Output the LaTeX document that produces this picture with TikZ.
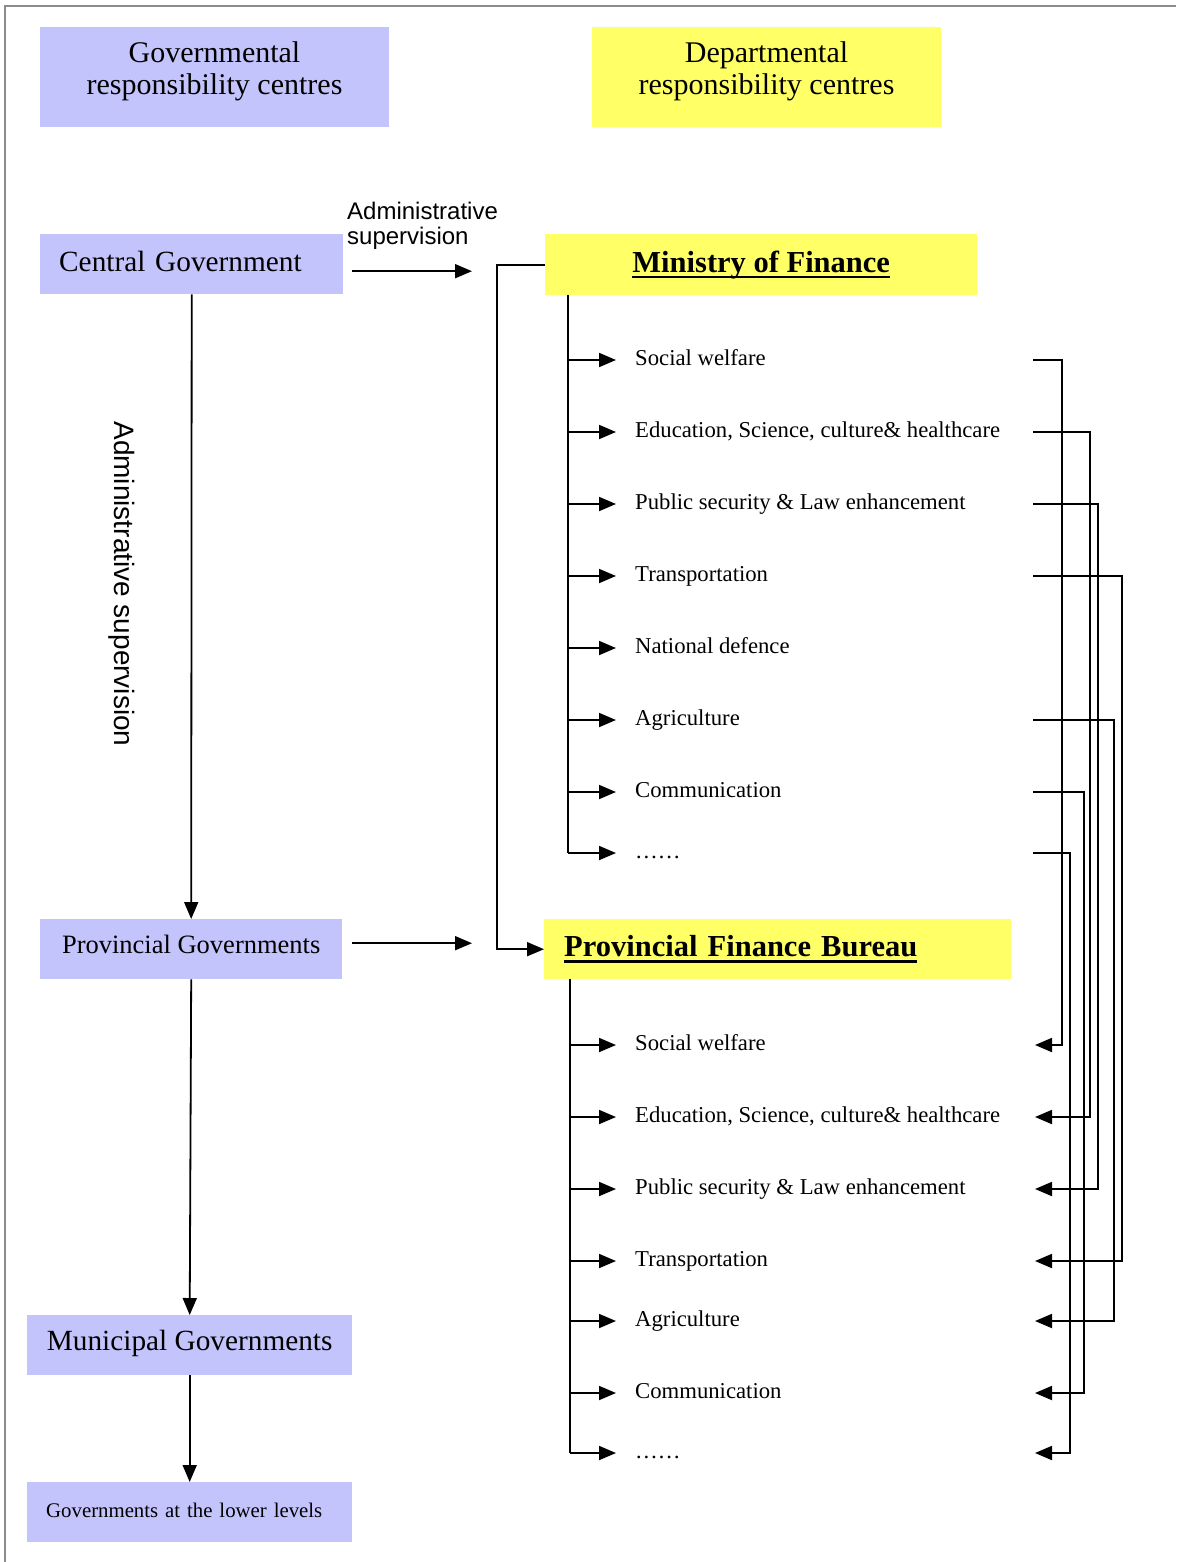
\documentclass[tikz,border=0pt]{standalone}
\usepackage{fontspec}
\setmainfont{Liberation Serif}
\newfontfamily\arialfont{Liberation Sans}
\usetikzlibrary{arrows.meta}
\definecolor{govblue}{RGB}{196,196,252}
\definecolor{depyellow}{RGB}{255,255,102}
\definecolor{framegray}{RGB}{140,140,140}
\newcommand\ulbold[1]{\setbox0=\hbox{#1}\rlap{\rule[-5.8pt]{\wd0}{2.3pt}}\box0}
\tikzset{
 govbox/.style={fill=govblue, draw=none, inner sep=0, anchor=north west},
 depbox/.style={fill=depyellow, draw=none, inner sep=0, anchor=north west},
 hdr/.style={align=center, inner sep=0, font=\fontsize{30}{32}\selectfont},
 conn/.style={line width=1.8pt, -{Triangle[length=17pt,width=14pt]}},
 busline/.style={line width=2.8pt},
 item/.style={anchor=west, inner sep=0, font=\fontsize{22.7}{26}\selectfont, text height=15pt, text depth=4pt},
}
\begin{document}
\begin{tikzpicture}[x=1pt,y=-1pt]
\useasboundingbox (0,0) rectangle (1176,1562);
\draw[framegray, line width=1.5pt] (5,1562) -- (5,6) -- (1176,6);

% headers
\node[govbox, minimum width=349, minimum height=100] (gh) at (40,27) {};
\node[hdr] (ght) at (214.5,71) {Governmental\\responsibility centres};
\node[depbox, minimum width=349, minimum height=100] (dh) at (592,27) {};
\node[hdr] (dht) at (766.5,71) {Departmental\\responsibility centres};

% main boxes
\node[govbox, minimum height=60, text width=265, inner xsep=19, align=left, text height=20pt, text depth=5.6pt, font=\fontsize{29.3}{32}\selectfont] (cg) at (40,234) {Central Government};
\node[depbox, minimum width=432, minimum height=61, font=\bfseries\fontsize{30.5}{32}\selectfont] (mof) at (545,234) {\ulbold{Ministry of Finance}};
\node[govbox, minimum width=302, minimum height=60, text height=18pt, text depth=8.5pt, font=\fontsize{26.5}{28}\selectfont] (pg) at (40,919) {Provincial Governments};
\node[depbox, minimum height=60, text width=427, inner xsep=20, align=left, font=\bfseries\fontsize{30.5}{32}\selectfont] (pfb) at (544,919) {\ulbold{Provincial Finance Bureau}};
\node[govbox, minimum width=325, minimum height=60, text height=20pt, text depth=8.6pt, font=\fontsize{29.3}{32}\selectfont] (mg) at (27,1315) {Municipal Governments};
\node[govbox, minimum height=60, text width=287, inner xsep=19, align=left, text height=15pt, text depth=5.3pt, font=\fontsize{20.8}{24}\selectfont] (lg) at (27,1482) {Governments at the lower levels};

% labels
\node[font=\arialfont\fontsize{24}{25}\selectfont, align=left, anchor=west, inner sep=0] (ash) at (347,225.5) {Administrative\\supervision};
\node[font=\arialfont\fontsize{28}{30}\selectfont, rotate=-90, inner sep=0] (asv) at (122,584) {Administrative supervision};

% left connectors
\draw[conn] (cg.south) -- (pg.north);
\draw[conn] (pg.south) -- (mg.north);
\draw[conn] (mg.south) -- (lg.north);
\draw[conn] ([shift={(9,7)}]cg.east) -- ([shift={(-73,6.5)}]mof.west);
\draw[conn] ([shift={(10,-6)}]pg.east) -- ([shift={(-72,-6)}]pfb.west);
\draw[conn] (mof.west) -- ++(-48,0) |- (pfb.west);

% items
\foreach \i/\y/\t in {1/360/Social welfare, 2/432/{Education, Science, culture\& healthcare}, 3/504/{Public security \& Law enhancement}, 4/576/Transportation, 5/648/National defence, 6/720/Agriculture, 7/792/Communication, 8/853/\dots\dots}
  \node[item] (m\i) at (635,\y) {\t};
\foreach \i/\y/\t in {1/1045/Social welfare, 2/1117/{Education, Science, culture\& healthcare}, 3/1189/{Public security \& Law enhancement}, 4/1261/Transportation, 5/1321/Agriculture, 6/1393/Communication, 7/1453/\dots\dots}
  \node[item] (p\i) at (635,\y) {\t};

\coordinate (mbus) at ([xshift=23pt]mof.south west);
\coordinate (pbus) at ([xshift=26pt]pfb.south west);
\coordinate (rstart) at (1033,0);
\coordinate (rtip) at (1035,0);

\draw[busline] (mbus) -- (mbus |- m8.west);
\foreach \i in {1,...,8} \draw[conn, shorten >=19pt] (mbus |- m\i.west) -- (m\i.west);
\draw[busline] (pbus) -- (pbus |- p7.west);
\foreach \i in {1,...,7} \draw[conn, shorten >=19pt] (pbus |- p\i.west) -- (p\i.west);

% right connectors
\foreach \a/\b/\d in {1/1/29, 2/2/57, 3/3/65, 4/4/89, 6/5/81, 7/6/51, 8/7/37}
  \draw[conn] (rstart |- m\a.west) -- ++(\d,0) |- (rtip |- p\b.west);
\end{tikzpicture}
\end{document}
